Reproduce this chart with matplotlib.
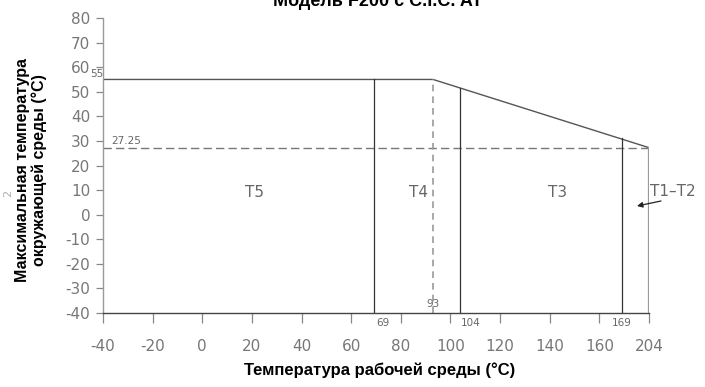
import numpy as np
import matplotlib
matplotlib.use("Agg")
import matplotlib.pyplot as plt

# ---- data ----
x_ticks = [-40, -20, 0, 20, 40, 60, 80, 100, 120, 140, 160, 204]
y_ticks = [-40, -30, -20, -10, 0, 10, 20, 30, 40, 50, 60, 70, 80]
limit_x = [-40, 93, 204]          # process temperature
limit_y = [55, 55, 27.25]          # max ambient temperature
class_bounds = [69, 104, 169]      # T-class boundaries
class_tops = [55, 51.5, 31]        # where each boundary meets the limit line
knee_x = 93
ref_level = 27.25
zone_names = ["T5", "T4", "T3"]
zone_x = [21, 87, 143]
zone_y = [9, 9, 9]

# compressed segment after 169 (drawing is not to scale there)
def fwd(x):
    x = np.asarray(x, dtype=float)
    return np.where(x <= 169, x, 169 + (x - 169) * (11.0 / 35.0))

def inv(x):
    x = np.asarray(x, dtype=float)
    return np.where(x <= 169, x, 169 + (x - 169) * (35.0 / 11.0))

fig = plt.figure(figsize=(7.05, 3.87), dpi=100)
ax = fig.add_axes([103 / 705, 1 - 313 / 387, 546 / 705, 295 / 387])
ax.set_xscale("function", functions=(fwd, inv))
ax.set_xlim(-40, 204)
ax.set_ylim(-40, 80)

line_c = "#555555"
dark_c = "#333333"
txt_c = "#666666"

# limit line
ax.plot(limit_x, limit_y, color=line_c, lw=1.0, solid_capstyle="butt")
# dashed reference lines
ax.plot([-40, 204], [ref_level, ref_level], color="#777777", lw=1.0, ls=(0, (6, 3)))
ax.plot([knee_x, knee_x], [-40, 55], color="#999999", lw=1.2, ls=(0, (4, 3)))
# boundaries
for bx, by in zip(class_bounds, class_tops):
    ax.plot([bx, bx], [-40, by], color=dark_c, lw=0.9)
ax.plot([204, 204], [-40, ref_level], color="#999999", lw=1.6)

# zone labels
for name, zx, zy in zip(zone_names, zone_x, zone_y):
    ax.text(zx, zy, name, color=txt_c, fontsize=11, ha="center", va="center")
fig.text(673 / 705, 1 - 192 / 387, "T1\u2013T2", color=txt_c, fontsize=11,
         ha="center", va="center")
ax.annotate("", xy=(637, 181), xycoords="figure pixels",
            xytext=(661, 186), textcoords="figure pixels",
            arrowprops=dict(arrowstyle="-|>", color="#222222", lw=0.9,
                            shrinkA=0, shrinkB=0, mutation_scale=8))

# small value labels
small = 7.5
ax.text(-40, 55, "55", color=txt_c, fontsize=small, ha="right", va="bottom")
ax.text(-36.5, ref_level + 0.8, "27.25", color=txt_c, fontsize=small, ha="left", va="bottom")
ax.text(69 + 1, -42, "69", color=txt_c, fontsize=small, ha="left", va="top")
ax.text(knee_x, -38.5, "93", color=txt_c, fontsize=small, ha="center", va="bottom")
ax.text(104, -42, "104", color=txt_c, fontsize=small, ha="left", va="top")
ax.text(169, -42, "169", color=txt_c, fontsize=small, ha="center", va="top")

# axes styling
for s in ["top", "right"]:
    ax.spines[s].set_visible(False)
ax.spines["left"].set_color("#999999")
ax.spines["bottom"].set_color("#444444")
ax.spines["left"].set_linewidth(1.0)
ax.spines["bottom"].set_linewidth(1.0)
ax.set_xticks(x_ticks)
ax.set_xticklabels([str(v) for v in x_ticks])
ax.set_yticks(y_ticks)
ax.set_yticklabels([str(v) for v in y_ticks])
ax.tick_params(axis="both", colors="#888888", labelcolor="#777777", labelsize=11,
               direction="out", width=0.9)
ax.tick_params(axis="y", length=5, pad=4)
ax.tick_params(axis="x", length=7, pad=12)

fig.text(378 / 705, 1 - 6 / 387, "Модель F200 с C.I.C. AT", fontsize=13,
         fontweight="bold", ha="center", va="baseline", family="Liberation Sans")
fig.text(31 / 705, 1 - 170 / 387, "Максимальная температура\nокружающей среды (°C)",
         fontsize=11.5, fontweight="bold", rotation=90, ha="center", va="center",
         linespacing=1.15, family="Liberation Sans")
fig.text(380 / 705, 1 - 370 / 387, "Температура рабочей среды (°C)", fontsize=12,
         fontweight="bold", ha="center", va="center", family="Liberation Sans")
fig.text(8 / 705, 1 - 193 / 387, "2", fontsize=8, color="#aaaaaa", ha="center",
         va="center", rotation=90)

fig.savefig("out.png", dpi=100)
